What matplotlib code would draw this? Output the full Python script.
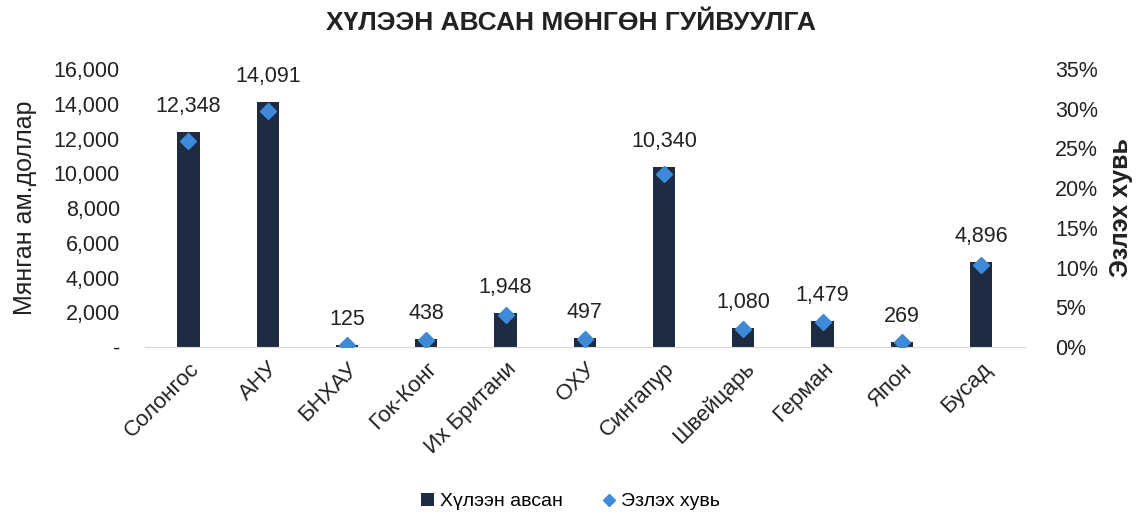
import matplotlib
matplotlib.use("Agg")
import matplotlib.pyplot as plt
from matplotlib.ticker import FuncFormatter, PercentFormatter

plt.rcParams['font.family'] = ['Liberation Sans', 'DejaVu Sans']

countries = ["Солонгос", "АНУ", "БНХАУ", "Гок-Конг", "Их Британи", "ОХУ",
             "Сингапур", "Швейцарь", "Герман", "Япон", "Бусад"]
received = [12348, 14091, 125, 438, 1948, 497, 10340, 1080, 1479, 269, 4896]
share_pct = [26.0, 29.7, 0.3, 0.9, 4.1, 1.0, 21.8, 2.3, 3.1, 0.6, 10.3]

bar_color = "#1e2b42"
dot_color = "#3f8ad8"
text_color = "#222222"

fig = plt.figure(figsize=(11.41, 5.15), dpi=100)
ax = fig.add_axes([0.127, 0.326, 0.771, 0.54])
ax2 = ax.twinx()

x = list(range(len(countries)))
ax.bar(x, received, width=0.28, color=bar_color, zorder=2, label="Хүлээн авсан")
for xi, v in zip(x, received):
    ax.annotate(f"{v:,}", (xi, v), xytext=(0, 11), textcoords="offset points",
                ha="center", va="bottom", fontsize=15.5, color=text_color)

ax2.plot(x, share_pct, linestyle="none", marker="D", markersize=8,
         color=dot_color, zorder=3, label="Эзлэх хувь")

ax.set_xlim(-0.55, len(countries) - 0.45)
ax.set_ylim(0, 16000)
ax.set_yticks(range(0, 16001, 2000))
ax.yaxis.set_major_formatter(FuncFormatter(lambda v, p: "-" if v == 0 else f"{int(v):,}"))
ax2.set_ylim(0, 35)
ax2.set_yticks(range(0, 36, 5))
ax2.yaxis.set_major_formatter(PercentFormatter(decimals=0))

for a in (ax, ax2):
    for s in a.spines.values():
        s.set_visible(False)
    a.tick_params(axis="both", length=0, labelsize=15.5, colors=text_color)
ax.spines["bottom"].set_visible(True)
ax.spines["bottom"].set_color("#d9d9d9")
ax.tick_params(axis="y", pad=18)
ax2.tick_params(axis="y", pad=22)

ax.set_xticks(x)
ax.set_xticklabels(countries, rotation=45, ha="right", rotation_mode="anchor",
                   fontsize=16)
ax.tick_params(axis="x", pad=8)

ax.set_ylabel("Мянган ам.доллар", fontsize=18, color=text_color, labelpad=12)
ax2.set_ylabel("Эзлэх хувь", fontsize=18, fontweight="bold", color=text_color,
               labelpad=8)

fig.suptitle("ХҮЛЭЭН АВСАН МӨНГӨН ГУЙВУУЛГА", fontsize=19, fontweight="bold",
             color=text_color, y=0.978)

h1, l1 = ax.get_legend_handles_labels()
h2, l2 = ax2.get_legend_handles_labels()
fig.legend(h1 + h2, l1 + l2, loc="lower center", bbox_to_anchor=(0.5, -0.025),
           ncol=2, frameon=False, fontsize=14, handlelength=0.7,
           handleheight=0.7, columnspacing=2.0, handletextpad=0.3,
           markerscale=0.8)

fig.savefig("out.png", dpi=100)
